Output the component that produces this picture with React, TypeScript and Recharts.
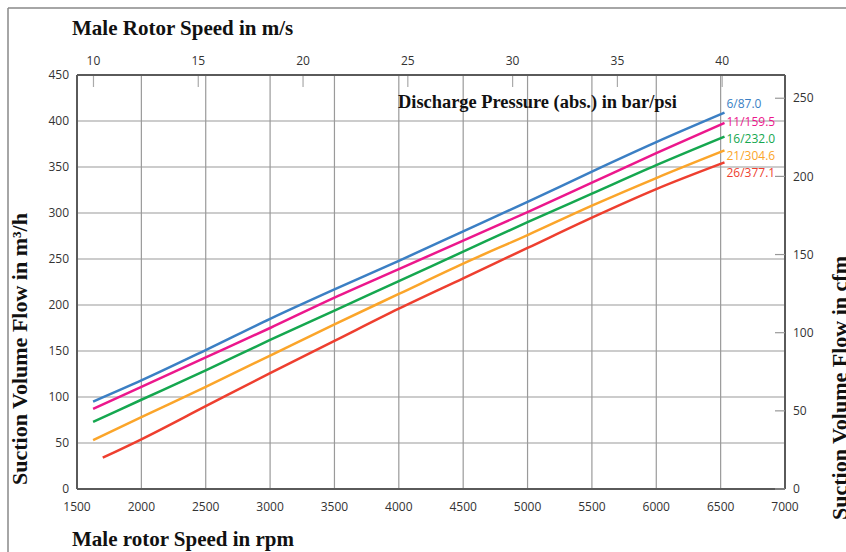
import React from "react";
import { LineChart, Line, XAxis, YAxis, CartesianGrid } from "recharts";

// axis ticks
const rpmTicks = [1500, 2000, 2500, 3000, 3500, 4000, 4500, 5000, 5500, 6000, 6500, 7000];
const flowTicks = [0, 50, 100, 150, 200, 250, 300, 350, 400, 450];
const cfmTicks = [0, 50, 100, 150, 200, 250];
const speedTicks = [10, 15, 20, 25, 30, 35, 40];

// rpm per m/s of rotor tip speed, m3/h -> cfm
const RPM_PER_MS = 162.8;
const CFM_PER_M3H = 0.5886;

// curves (rpm -> m3/h)
const rpmPoints = [1625, 2000, 2500, 3000, 3500, 4000, 4500, 5000, 5500, 6000, 6530];
const rpmPointsRed = [1700, 2000, 2500, 3000, 3500, 4000, 4500, 5000, 5500, 6000, 6530];

const flow6 = [95, 118, 151, 185, 217, 248, 280, 312, 345, 377, 409];
const flow11 = [87, 111, 143, 175, 208, 239, 270, 301, 333, 365, 398];
const flow16 = [73, 97, 129, 162, 194, 226, 258, 290, 321, 352, 383];
const flow21 = [53, 78, 111, 145, 179, 212, 245, 276, 308, 338, 368];
const flow26 = [34, 54, 90, 126, 161, 196, 229, 262, 295, 326, 355];

const pressureLabels = ["6/87.0", "11/159.5", "16/232.0", "21/304.6", "26/377.1"];

const series = [
  { name: pressureLabels[0], rpm: rpmPoints, flow: flow6, color: "#3b7fc4", labelDy: -9 },
  { name: pressureLabels[1], rpm: rpmPoints, flow: flow11, color: "#ec178c", labelDy: -1 },
  { name: pressureLabels[2], rpm: rpmPoints, flow: flow16, color: "#15a74f", labelDy: 2.5 },
  { name: pressureLabels[3], rpm: rpmPoints, flow: flow21, color: "#fba52a", labelDy: 5.5 },
  { name: pressureLabels[4], rpm: rpmPointsRed, flow: flow26, color: "#ee3f2f", labelDy: 10.5 },
];

const tickFont = { fontFamily: "'Open Sans', sans-serif", fontSize: 12, fill: "#333" };
const titleFont = { fontFamily: "'Liberation Serif', 'Times New Roman', serif", fontWeight: 700, fill: "#111" };
const axisStroke = { stroke: "#5a5a5a", strokeWidth: 2 };

// top axis shares the rpm scale, labelled in m/s
const speedTicksRpm = speedTicks.map((v) => v * RPM_PER_MS);

const TopTick = (props: any) => {
  const { x, y, payload } = props;
  return (
    <g>
      <line x1={x} x2={x} y1={y + 11} y2={y + 22} stroke="#aaa" strokeWidth={1.2} />
      <text x={x} y={y} textAnchor="middle" {...tickFont}>
        {Math.round(payload.value / RPM_PER_MS)}
      </text>
    </g>
  );
};

const RightTick = (props: any) => {
  const { x, y, payload } = props;
  return (
    <g>
      <line x1={x - 18} x2={x - 8} y1={y} y2={y} stroke="#999" strokeWidth={1.2} />
      <text x={x} y={y} dy="0.35em" textAnchor="start" {...tickFont}>
        {payload.value}
      </text>
    </g>
  );
};

const App = () => {
  return (
    <div style={{ position: "absolute", left: 0, top: 0, width: 846, height: 552, background: "#fff" }}>
      <LineChart width={846} height={552} margin={{ top: 0, right: 0, bottom: 0, left: 0 }}>
        <CartesianGrid stroke="#9a9a9a" strokeWidth={1.2} />
        <XAxis
          dataKey="rpm"
          type="number"
          domain={[1500, 7000]}
          ticks={rpmTicks}
          height={63}
          tickSize={0}
          tickMargin={13}
          tick={tickFont}
          axisLine={axisStroke}
          allowDataOverflow
        />
        <XAxis
          xAxisId="top"
          dataKey="rpm"
          orientation="top"
          type="number"
          domain={[1500, 7000]}
          ticks={speedTicksRpm}
          interval={0}
          height={75}
          tickSize={0}
          tickMargin={10}
          tick={<TopTick />}
          axisLine={axisStroke}
          allowDataOverflow
        />
        <YAxis
          type="number"
          domain={[0, 450]}
          ticks={flowTicks}
          width={77}
          tickSize={0}
          tickMargin={8}
          tick={tickFont}
          axisLine={axisStroke}
          allowDataOverflow
        />
        <YAxis
          yAxisId="right"
          orientation="right"
          type="number"
          domain={[0, 450 * CFM_PER_M3H]}
          ticks={cfmTicks}
          width={61}
          tickSize={0}
          tickMargin={8}
          tick={<RightTick />}
          axisLine={axisStroke}
          allowDataOverflow
        />
        {series.map((s) => {
          const data = s.rpm.map((r, i) => ({ rpm: r, flow: s.flow[i] }));
          const last = data.length - 1;
          return (
            <Line
              key={s.name}
              data={data}
              dataKey="flow"
              name={s.name}
              type="monotone"
              stroke={s.color}
              strokeWidth={2.5}
              isAnimationActive={false}
              activeDot={false}
              dot={(p: any) =>
                p.index === last ? (
                  <text
                    key={`lbl-${s.name}`}
                    x={p.cx + 2}
                    y={p.cy + s.labelDy}
                    dy="0.35em"
                    fontFamily="'Open Sans', sans-serif"
                    fontSize={12}
                    fill={s.color}
                  >
                    {s.name}
                  </text>
                ) : (
                  <g key={`d-${s.name}-${p.index}`} />
                )
              }
            />
          );
        })}
      </LineChart>
      <svg
        width={846}
        height={552}
        style={{ position: "absolute", left: 0, top: 0, pointerEvents: "none" }}
      >
        <line x1={8} x2={846} y1={8} y2={8} stroke="#888" strokeWidth={1.5} />
        <line x1={8} x2={8} y1={8} y2={552} stroke="#888" strokeWidth={1.5} />
        <text x={72} y={35} fontSize={21} {...titleFont}>
          Male Rotor Speed in m/s
        </text>
        <text x={398} y={108} fontSize={18.4} {...titleFont}>
          Discharge Pressure (abs.) in bar/psi
        </text>
        <text x={72} y={546} fontSize={21} {...titleFont}>
          Male rotor Speed in rpm
        </text>
        <text x={27} y={349} fontSize={22} textAnchor="middle" transform="rotate(-90 27 349)" {...titleFont}>
          Suction Volume Flow in m³/h
        </text>
        <text x={847} y={388} fontSize={22} textAnchor="middle" transform="rotate(-90 847 388)" {...titleFont}>
          Suction Volume Flow in cfm
        </text>
      </svg>
    </div>
  );
};

export default App;
